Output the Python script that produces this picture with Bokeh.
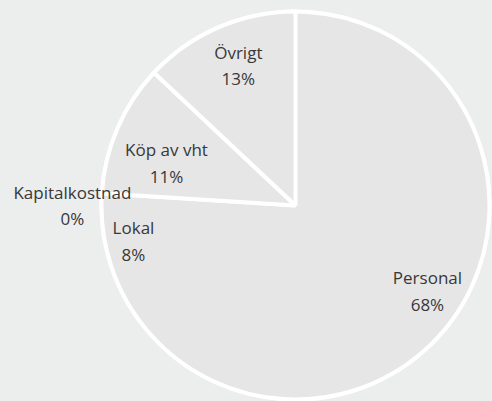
import math
from bokeh.plotting import figure
from bokeh.models import Range1d, ColumnDataSource
from bokeh.core.properties import value
from bokeh.embed import file_html
from bokeh.resources import INLINE

# Data (clockwise from 12 o'clock)
categories = ["Personal", "Lokal", "Kapitalkostnad", "Köp av vht", "Övrigt"]
shares = [68, 8, 0, 11, 13]
# label placement: radius fraction and angular nudge (degrees) per label
label_radius = [0.81, 0.855, 1.15, 0.70, 0.78]
label_nudge = [-0.5, 1.6, 3.6, 5.2, -1.2]

W, H = 492, 401
BG = "#ECEDED"
cx, cy, R = 295, H - 205, 194

total = sum(shares)
starts, ends, mids = [], [], []
acc = 0.0
for s in shares:
    a0 = math.pi / 2 - 2 * math.pi * acc / total
    acc += s
    a1 = math.pi / 2 - 2 * math.pi * acc / total
    starts.append(a0)
    ends.append(a1)
    mids.append((a0 + a1) / 2)

angs = [m + math.radians(n) for m, n in zip(mids, label_nudge)]
lx = [cx + f * R * math.cos(a) for f, a in zip(label_radius, angs)]
ly = [cy + f * R * math.sin(a) for f, a in zip(label_radius, angs)]
labels = [f"{c}\n{s}%" for c, s in zip(categories, shares)]

src = ColumnDataSource(dict(start=starts, end=ends, x=lx, y=ly, label=labels))

p = figure(width=W, height=H, output_backend="svg", toolbar_location=None,
           x_range=Range1d(0, W), y_range=Range1d(0, H),
           min_border=0, outline_line_color=None,
           background_fill_color=BG, border_fill_color=BG)
p.axis.visible = False
p.grid.visible = False

p.wedge(x=cx, y=cy, radius=R, start_angle="start", end_angle="end",
        direction="clock", source=src, fill_color="#E6E6E6",
        line_color="white", line_width=4)

p.text(x="x", y="y", text="label", source=src, text_align="center",
       text_baseline="middle", text_font=value("Open Sans"),
       text_font_size="17px", text_color="#383838", text_line_height=1.15)

html = file_html(p, INLINE)
html = html.replace("<head>", "<head><style>body{background:%s;}</style>" % BG, 1)
open("out.html", "w").write(html)
